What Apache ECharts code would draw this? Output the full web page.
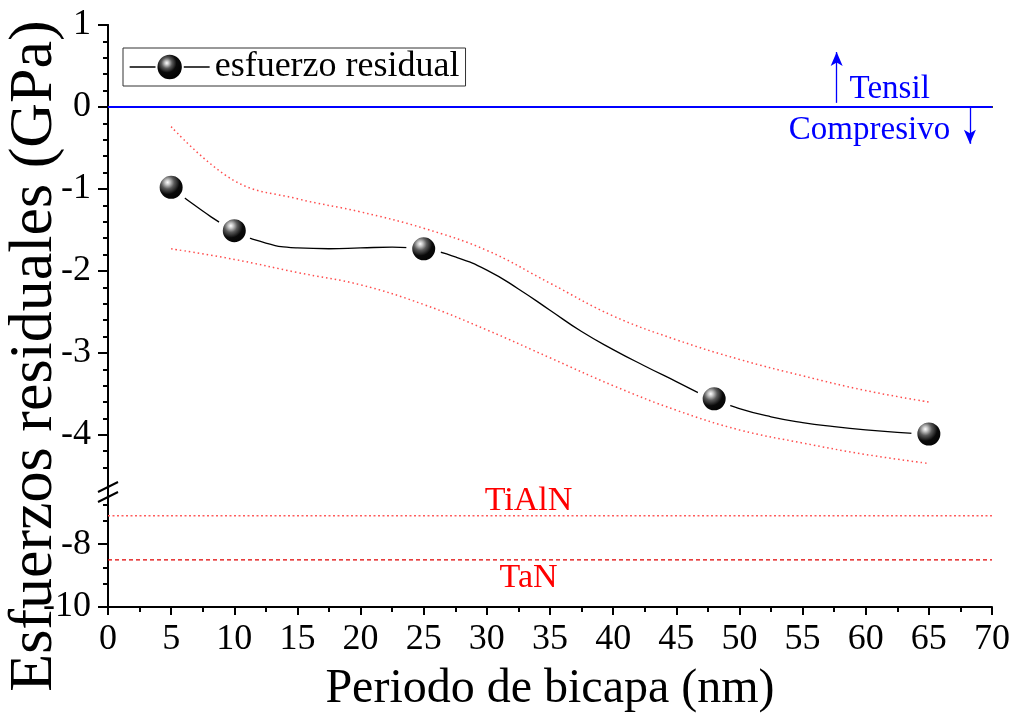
<!DOCTYPE html>
<html>
<head>
<meta charset="utf-8">
<script src="https://cdn.jsdelivr.net/npm/echarts@6/dist/echarts.min.js"></script>
<style>
  html, body { margin: 0; padding: 0; background: #ffffff; }
  #chart { width: 1014px; height: 716px; }
</style>
</head>
<body>
<div id="chart"></div>
<script>
// Residual stress vs. bilayer period (measured points)
const periodo = [5, 10, 25, 48, 65];
const esfuerzo = [-0.98, -1.51, -1.73, -3.56, -3.99];

// Fitted trend curve through the measurements
const ajusteX = [5, 7.5, 10, 12.5, 15, 17.5, 20, 22.5, 25, 27.5, 30, 32.5, 35, 37.5, 40,
                 42.5, 45, 47.5, 50, 52.5, 55, 57.5, 60, 62.5, 65];
const ajusteY = [-0.98, -1.27, -1.51, -1.66, -1.72, -1.73, -1.72, -1.71, -1.73, -1.83, -1.99,
                 -2.22, -2.48, -2.74, -2.96, -3.16, -3.35, -3.54, -3.68, -3.78, -3.85, -3.90,
                 -3.94, -3.97, -3.99];

// Confidence band (upper / lower) sampled along the period axis
const bandaX = [5, 10, 15, 20, 25, 30, 35, 40, 45, 50, 55, 60, 65];
const bandaSup = [-0.24, -0.90, -1.12, -1.28, -1.48, -1.75, -2.15, -2.55, -2.84, -3.08, -3.28, -3.46, -3.60];
const bandaInf = [-1.73, -1.86, -2.02, -2.17, -2.41, -2.72, -3.06, -3.40, -3.70, -3.94, -4.10, -4.24, -4.35];

// Reference monolayer stresses (GPa)
const refTiAlN = -7.1;
const refTaN = -8.5;

// Tick values for the two y segments
const yMayorSup = [1, 0, -1, -2, -3, -4];
const yMenorSup = [0.8, 0.6, 0.4, 0.2, -0.2, -0.4, -0.6, -0.8, -1.2, -1.4, -1.6, -1.8,
                   -2.2, -2.4, -2.6, -2.8, -3.2, -3.4, -3.6, -3.8, -4.2, -4.4];
const yMayorInf = [-8, -10];
const yMenorInf = [-6.75, -7.25, -8.75, -9.25];

const FONT = 'Liberation Serif';
const NEGRO = '#000000';
const AZUL = '#0000ff';
const ROJO = '#ff0000';

const chart = echarts.init(document.getElementById('chart'), null, { renderer: 'canvas' });

const esfera = {
  type: 'radial', x: 0.4, y: 0.36, r: 0.62,
  colorStops: [
    { offset: 0, color: '#ffffff' },
    { offset: 0.12, color: '#c4c4c4' },
    { offset: 0.3, color: '#5a5a5a' },
    { offset: 0.55, color: '#0a0a0a' },
    { offset: 1, color: '#000000' }
  ]
};

const ejeLinea = { show: true, lineStyle: { color: NEGRO, width: 2 } };
const sinNada = { show: false };

function zip(a, b) { return a.map((v, i) => [v, b[i]]); }

chart.setOption({
  animation: false,
  backgroundColor: '#ffffff',
  grid: [
    { left: 108, top: 25, width: 884, height: 459 },
    { left: 108, top: 500, width: 884, height: 107 },
    { left: 108, top: 25, width: 884, height: 582 }
  ],
  legend: {
    data: ['esfuerzo residual'],
    left: 123, top: 48,
    itemWidth: 80, itemHeight: 33,
    padding: [1, 6, 1, 6],
    borderColor: '#333333', borderWidth: 1,
    selectedMode: false,
    lineStyle: { color: NEGRO, width: 1.3, opacity: 1 },
    textStyle: { fontFamily: FONT, fontSize: 36, color: NEGRO }
  },
  xAxis: [
    {
      gridIndex: 0, type: 'value', min: 0, max: 70, position: 'top',
      axisLine: ejeLinea, axisTick: sinNada, axisLabel: sinNada, splitLine: sinNada
    },
    {
      gridIndex: 1, type: 'value', min: 0, max: 70, interval: 5, position: 'bottom',
      axisLine: ejeLinea,
      axisTick: { show: true, length: 8, lineStyle: { color: NEGRO, width: 2 } },
      minorTick: { show: true, splitNumber: 2, length: 5, lineStyle: { color: NEGRO, width: 2 } },
      axisLabel: { fontFamily: FONT, fontSize: 36, color: NEGRO, margin: 15 },
      splitLine: sinNada,
      name: 'Periodo de bicapa (nm)', nameLocation: 'middle', nameGap: 58,
      nameTextStyle: { fontFamily: FONT, fontSize: 48, color: NEGRO }
    },
    { gridIndex: 2, type: 'value', min: 0, max: 70, show: false }
  ],
  yAxis: [
    {
      gridIndex: 0, type: 'value', min: -4.6, max: 1, position: 'left',
      axisLine: ejeLinea,
      axisTick: { show: true, length: 10, customValues: yMayorSup, lineStyle: { color: NEGRO, width: 2 } },
      axisLabel: { customValues: yMayorSup, fontFamily: FONT, fontSize: 36, color: NEGRO, margin: 17 },
      splitLine: sinNada
    },
    {
      gridIndex: 0, type: 'value', min: -4.6, max: 1, position: 'left',
      axisLine: sinNada,
      axisTick: { show: true, length: 5, customValues: yMenorSup, lineStyle: { color: NEGRO, width: 2 } },
      axisLabel: sinNada, splitLine: sinNada
    },
    {
      gridIndex: 1, type: 'value', min: -10, max: -6.6, position: 'left',
      axisLine: ejeLinea,
      axisTick: { show: true, length: 10, customValues: yMayorInf, lineStyle: { color: NEGRO, width: 2 } },
      axisLabel: { customValues: yMayorInf, fontFamily: FONT, fontSize: 36, color: NEGRO, margin: 17 },
      splitLine: sinNada
    },
    {
      gridIndex: 1, type: 'value', min: -10, max: -6.6, position: 'left',
      axisLine: sinNada,
      axisTick: { show: true, length: 5, customValues: yMenorInf, lineStyle: { color: NEGRO, width: 2 } },
      axisLabel: sinNada, splitLine: sinNada
    },
    {
      gridIndex: 2, type: 'value', min: 0, max: 1, position: 'right',
      axisLine: ejeLinea, axisTick: sinNada, axisLabel: sinNada, splitLine: sinNada
    }
  ],
  series: [
    {
      // measured points: spheres only, the trend is drawn by the fit series
      name: 'esfuerzo residual', type: 'line', xAxisIndex: 0, yAxisIndex: 0,
      data: zip(periodo, esfuerzo),
      symbol: 'circle', symbolSize: 29,
      itemStyle: { color: esfera, borderColor: '#ffffff', borderWidth: 6 },
      lineStyle: { color: NEGRO, width: 1.3, opacity: 0 },
      z: 5,
      markLine: {
        silent: true,
        animation: false,
        label: { show: false },
        emphasis: { disabled: true },
        data: [
          [
            { coord: [0, 0], symbol: 'none', lineStyle: { color: AZUL, width: 2, type: 'solid' } },
            { coord: [70, 0], symbol: 'none' }
          ],
          [
            { coord: [57.7, 0.05], symbol: 'none', lineStyle: { color: AZUL, width: 1.3, type: 'solid' } },
            { coord: [57.7, 0.67], symbol: 'arrow', symbolSize: [9, 14] }
          ],
          [
            { coord: [68.25, 0], symbol: 'none', lineStyle: { color: AZUL, width: 1.3, type: 'solid' } },
            { coord: [68.25, -0.45], symbol: 'arrow', symbolSize: [9, 14] }
          ]
        ]
      }
    },
    {
      name: 'ajuste', type: 'line', xAxisIndex: 0, yAxisIndex: 0,
      data: zip(ajusteX, ajusteY), smooth: 0.5, symbol: 'none', silent: true,
      lineStyle: { color: NEGRO, width: 1.3 }, z: 4
    },
    {
      name: 'banda superior', type: 'line', xAxisIndex: 0, yAxisIndex: 0,
      data: zip(bandaX, bandaSup), smooth: 0.4, symbol: 'none', silent: true,
      lineStyle: { color: '#ff4d4d', width: 1.5, type: [1.5, 3] }, z: 3
    },
    {
      name: 'banda inferior', type: 'line', xAxisIndex: 0, yAxisIndex: 0,
      data: zip(bandaX, bandaInf), smooth: 0.4, symbol: 'none', silent: true,
      lineStyle: { color: '#ff4d4d', width: 1.5, type: [1.5, 3] }, z: 3
    },
    {
      name: 'TiAlN', type: 'line', xAxisIndex: 1, yAxisIndex: 2,
      data: [[0, refTiAlN], [70, refTiAlN]], symbol: 'none', silent: true,
      lineStyle: { color: '#ff5c5c', width: 1.5, type: [2, 2.5] }
    },
    {
      name: 'TaN', type: 'line', xAxisIndex: 1, yAxisIndex: 2,
      data: [[0, refTaN], [70, refTaN]], symbol: 'none', silent: true,
      lineStyle: { color: '#e00000', width: 1.3, type: [4, 3] }
    }
  ]
});

// Annotations placed in data space of the two segments
const pSup = (x, y) => chart.convertToPixel({ seriesIndex: 0 }, [x, y]);
const pInf = (x, y) => chart.convertToPixel({ seriesIndex: 4 }, [x, y]);

function texto(p, s, color, size) {
  return {
    type: 'text', x: p[0], y: p[1], silent: true,
    style: { text: s, fill: color, font: size + 'px "' + FONT + '"', textAlign: 'center', textVerticalAlign: 'middle' }
  };
}

const finSup = pSup(0, -4.6);
const iniInf = pInf(0, -6.6);
const corte = (yc) => ({
  type: 'line', silent: true,
  shape: { x1: finSup[0] - 10, y1: yc + 5, x2: finSup[0] + 10, y2: yc - 5 },
  style: { stroke: NEGRO, lineWidth: 2 }
});

chart.setOption({
  graphic: [
    texto(pSup(61.9, 0.21), 'Tensil', AZUL, 33),
    texto(pSup(60.3, -0.28), 'Compresivo', AZUL, 33),
    texto(pInf(33.3, -6.62), 'TiAlN', ROJO, 34),
    texto(pInf(33.3, -9.08), 'TaN', ROJO, 34),
    corte(finSup[1] + 3),
    corte(iniInf[1] - 3),
    {
      type: 'text', x: 35, y: 356, rotation: Math.PI / 2, silent: true,
      style: { text: 'Esfuerzos residuales (GPa)', fill: NEGRO, font: '62px "' + FONT + '"', textAlign: 'center', textVerticalAlign: 'middle' }
    }
  ]
});
</script>
</body>
</html>
